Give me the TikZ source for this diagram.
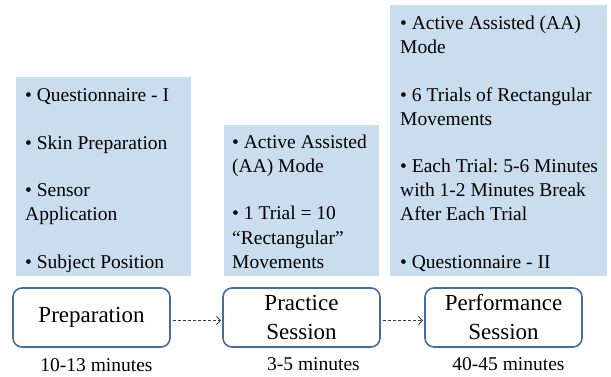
\documentclass[tikz,border=0pt]{standalone}
\usepackage{fontspec}
\setmainfont{Liberation Serif}
\usetikzlibrary{arrows.meta}
\definecolor{bluefill}{RGB}{201,221,239}
\definecolor{stepborder}{RGB}{66,108,165}
\definecolor{arrowgray}{RGB}{60,60,60}
\frenchspacing
\begin{document}
\begin{tikzpicture}[x=1pt,y=-1pt,
  infobox/.style={fill=bluefill, draw=none, inner sep=0pt, outer sep=0pt, anchor=north west},
  infotext/.style={font=\fontsize{19.5}{24}\selectfont, align=left, anchor=base west, inner sep=0pt},
  stepbox/.style={draw=stepborder, line width=1.6pt, rounded corners=9pt, fill=white,
    minimum width=157pt, minimum height=59pt, align=center,
    font=\fontsize{23}{29}\selectfont, inner sep=0pt},
  timelabel/.style={font=\fontsize{19.5}{23}\selectfont, inner sep=0pt},
  flow/.style={draw=arrowgray, line width=1pt, dash pattern=on 3pt off 2pt,
    -{Straight Barb[length=4pt,width=8pt]}, shorten <=2pt, shorten >=1pt}
]
\useasboundingbox (0,0) rectangle (611,377);

% blue information boxes
\node[infobox, minimum width=175pt, minimum height=199pt] (b1) at (16,77) {};
\node[infobox, minimum width=155pt, minimum height=151pt] (b2) at (224,125) {};
\node[infobox, minimum width=217pt, minimum height=271pt] (b3) at (390,5) {};

% anchored at the baseline of the last line
\node[infotext] (t1) at (25,268) {• Questionnaire - I\\[23.5pt]• Skin Preparation\\[23.5pt]• Sensor\\Application\\[23.5pt]• Subject Position};
\node[infotext] (t2) at (232,268) {• Active Assisted\\(AA) Mode\\[23.5pt]• 1 Trial = 10\\“Rectangular”\\Movements};
\node[infotext] (t3) at (400,268) {• Active Assisted (AA)\\Mode\\[23.5pt]• 6 Trials of Rectangular\\Movements\\[23.5pt]• Each Trial: 5-6 Minutes\\with 1-2 Minutes Break\\After Each Trial\\[23.5pt]• Questionnaire - II};

% steps
\node[stepbox] (prep) at (91.5,317.5) {Preparation};
\node[stepbox] (prac) at (301.5,317.5) {Practice\\Session};
\node[stepbox] (perf) at (503.5,317.5) {Performance\\Session};

\draw[flow] ([yshift=-3pt]prep.east) -- ([yshift=-3pt]prac.west);
\draw[flow] ([yshift=-3pt]prac.east) -- ([yshift=-3pt]perf.west);

% durations
\node[timelabel] (d1) at (96.5,365) {10-13 minutes};
\node[timelabel] (d2) at (313.5,364) {3-5 minutes};
\node[timelabel] (d3) at (508.5,364) {40-45 minutes};
\end{tikzpicture}
\end{document}
